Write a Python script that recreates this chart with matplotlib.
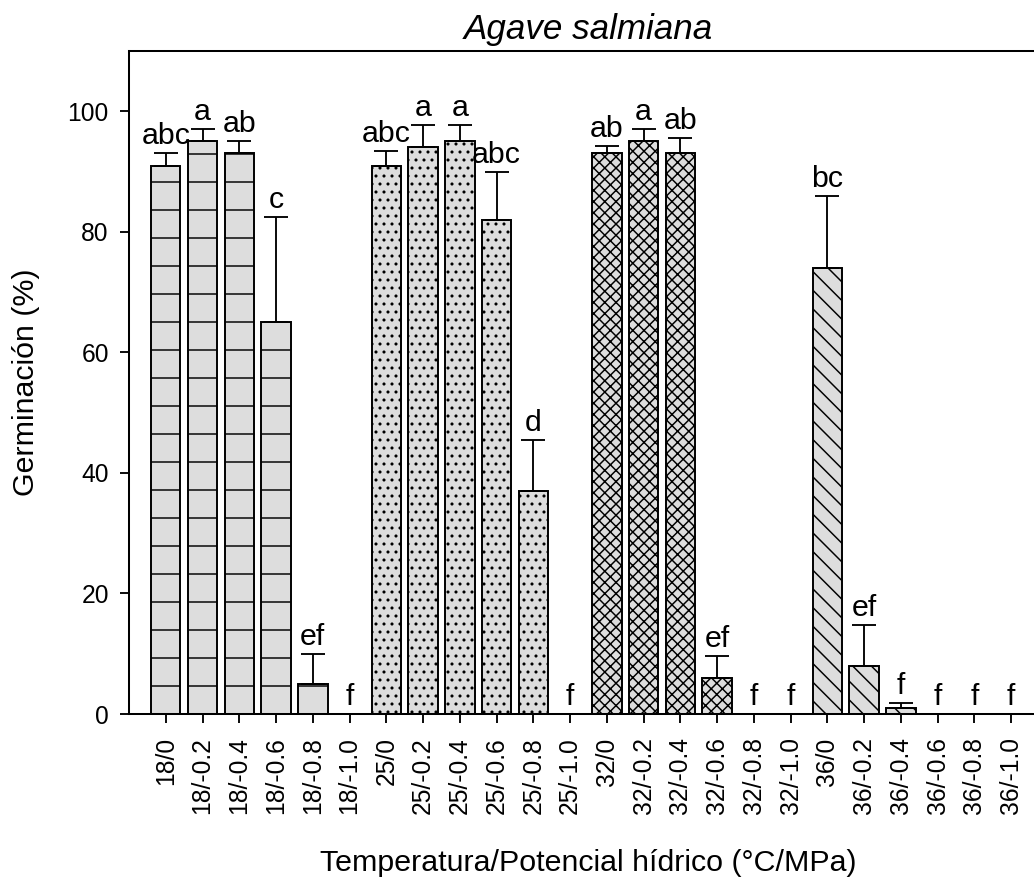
"""
Germinación de Agave salmiana por temperatura y potencial hídrico.
Barras con error estándar (solo hacia arriba) y letras de significancia.
"""
import numpy as np
import matplotlib
matplotlib.use("Agg")
import matplotlib.pyplot as plt
from matplotlib.backend_bases import GraphicsContextBase

# datos
temperaturas = [18, 25, 32, 36]
potenciales = ["0", "-0.2", "-0.4", "-0.6", "-0.8", "-1.0"]
etiquetas = [f"{t}/{p}" for t in temperaturas for p in potenciales]

germ_18 = [91, 95, 93, 65, 5, 0]
germ_25 = [91, 94, 95, 82, 37, 0]
germ_32 = [93, 95, 93, 6, 0, 0]
germ_36 = [74, 8, 1, 0, 0, 0]

err_18 = [2.0, 2.1, 2.0, 17.5, 5.0, 0]
err_25 = [2.4, 3.7, 2.7, 8.0, 8.5, 0]
err_32 = [1.2, 2.1, 2.5, 3.6, 0, 0]
err_36 = [12.0, 6.8, 0.9, 0, 0, 0]

letras_18 = ["abc", "a", "ab", "c", "ef", "f"]
letras_25 = ["abc", "a", "a", "abc", "d", "f"]
letras_32 = ["ab", "a", "ab", "ef", "f", "f"]
letras_36 = ["bc", "ef", "f", "f", "f", "f"]

# densidad de trama controlada por el número de caracteres del patrón
GraphicsContextBase.get_hatch_path = (
    lambda self, density=1.0: None if self.get_hatch() is None
    else matplotlib.path.Path.hatch(self.get_hatch(), 1.0))
tramas = ["-" * 4, "." * 14, "x" * 20, "\\" * 12]

DPI = 112
plt.rcParams["font.family"] = ["Liberation Sans", "DejaVu Sans"]
plt.rcParams["hatch.linewidth"] = 0.95
plt.rcParams["hatch.color"] = "black"

valores = [germ_18, germ_25, germ_32, germ_36]
errores = [err_18, err_25, err_32, err_36]
letras = [letras_18, letras_25, letras_32, letras_36]

fig = plt.figure(figsize=(1034 / DPI, 878 / DPI), dpi=DPI)
ax = fig.add_axes([129 / 1034, 164 / 878, 919 / 1034, 663 / 878])

for g in range(len(temperaturas)):
    x = np.arange(6) + 6 * g
    y = np.array(valores[g], dtype=float)
    e = np.array(errores[g], dtype=float)
    ax.bar(x, y, width=0.8, color="#dddddd", edgecolor="black",
           linewidth=1.25, hatch=tramas[g], zorder=2)
    con_err = e > 0
    ax.errorbar(x[con_err], y[con_err],
                yerr=[np.zeros(con_err.sum()), e[con_err]],
                fmt="none", ecolor="black", elinewidth=1.2,
                capsize=7.5, capthick=1.2, zorder=3)
    for xi, yi, ei, txt in zip(x, y, e, letras[g]):
        ax.text(xi, yi + ei + 1.5, txt, ha="center", va="baseline",
                fontsize=19.5, zorder=4)

ax.set_xlim(-1, 24)
ax.set_ylim(0, 110)
ax.set_xticks(np.arange(len(etiquetas)))
ax.set_xticklabels(etiquetas, rotation=90, fontsize=15.8)
ax.set_yticks(np.arange(0, 101, 20))
ax.tick_params(axis="y", labelsize=15.8, length=6, width=1.2, pad=7)
ax.tick_params(axis="x", length=6, width=1.2, pad=9)
for lado in ax.spines.values():
    lado.set_linewidth(1.3)

ax.set_ylabel("Germinación (%)", fontsize=19.5, labelpad=18)
ax.set_xlabel("Temperatura/Potencial hídrico (°C/MPa)", fontsize=19.5,
              labelpad=22)
ax.set_title("Agave salmiana", fontsize=22.5, style="italic", pad=8)

fig.savefig("out.png", dpi=DPI)
